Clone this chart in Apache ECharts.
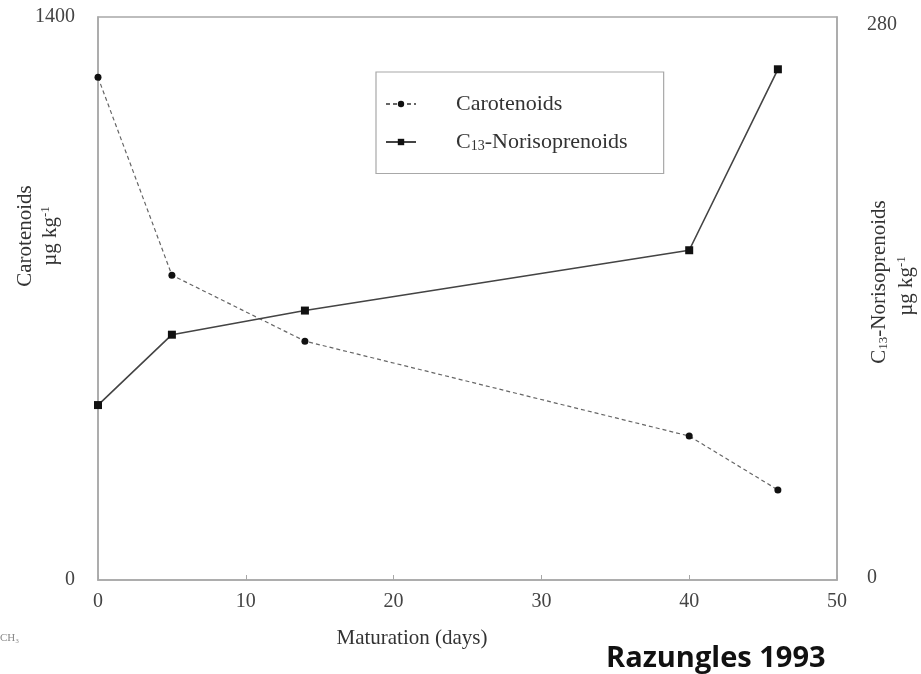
<!DOCTYPE html>
<html>
<head>
<meta charset="utf-8">
<script src="https://cdn.jsdelivr.net/npm/echarts@6/dist/echarts.min.js"></script>
<style>
  html, body { margin: 0; padding: 0; background: #fff; }
  #chart { width: 921px; height: 674px; }
</style>
</head>
<body>
<div id="chart"></div>
<script>
// Maturation time points (days)
const days = [0, 5, 14, 40, 46];
// Carotenoid content, µg/kg (left axis)
const carotenoids = [1250, 758, 594, 358, 224];
// C13-norisoprenoid content, µg/kg (right axis)
const norisoprenoids = [87, 122, 134, 164, 254];

const serif = 'Liberation Serif';
const chart = echarts.init(document.getElementById('chart'));

const unitRich = {
  n: { font: '21px "Liberation Serif"', fill: '#333' },
  sup: { font: '13px "Liberation Serif"', fill: '#333', padding: [0, 0, 9, 0] }
};

chart.setOption({
  animation: false,
  backgroundColor: '#fff',
  textStyle: { fontFamily: serif },
  grid: {
    left: 98, right: 84, top: 17, bottom: 94,
    show: true, borderColor: '#a8a8a8', borderWidth: 1.5
  },
  legend: {
    orient: 'vertical',
    left: 376, top: 72,
    padding: [21, 36, 20, 9],
    itemWidth: 30, itemHeight: 8, itemGap: 16,
    borderColor: '#a8a8a8', borderWidth: 1.2,
    textStyle: {
      fontFamily: serif, fontSize: 22, color: '#333', padding: [0, 0, 0, 35],
      rich: {
        sub: { fontFamily: serif, fontSize: 14, color: '#333', padding: [9, 0, 0, 0] },
        n: { fontFamily: serif, fontSize: 22, color: '#333' }
      }
    },
    formatter: name => name === 'C13-Norisoprenoids'
      ? '{n|C}{sub|13}{n|-Norisoprenoids}'
      : '{n|' + name + '}',
    data: ['Carotenoids', 'C13-Norisoprenoids']
  },
  xAxis: {
    type: 'value', min: 0, max: 50, interval: 10,
    axisLine: { lineStyle: { color: '#a8a8a8', width: 1.5 } },
    axisTick: { inside: true, length: 5, lineStyle: { color: '#a8a8a8' } },
    axisLabel: { fontFamily: serif, fontSize: 20, color: '#444', margin: 12 },
    splitLine: { show: false }
  },
  yAxis: [
    {
      type: 'value', min: 0, max: 1400, interval: 1400, position: 'left',
      axisLine: { show: true, lineStyle: { color: '#a8a8a8', width: 1.5 } },
      axisTick: { show: false },
      axisLabel: {
        fontFamily: serif, fontSize: 20, color: '#444', margin: 23,
        formatter: v => String(v), padding: [4, 0, 0, 0]
      },
      splitLine: { show: false }
    },
    {
      type: 'value', min: 0, max: 280, interval: 280, position: 'right',
      axisLine: { show: true, lineStyle: { color: '#a8a8a8', width: 1.5 } },
      axisTick: { show: false },
      axisLabel: {
        fontFamily: serif, fontSize: 20, color: '#444', margin: 30,
        formatter: v => v === 0 ? '{z|0}' : '{t|' + v + '}',
        rich: {
          z: { fontFamily: serif, fontSize: 20, color: '#444', padding: [0, 0, 4, 0] },
          t: { fontFamily: serif, fontSize: 20, color: '#444', padding: [16, 0, 0, 0] }
        }
      },
      splitLine: { show: false }
    }
  ],
  series: [
    {
      name: 'Carotenoids', type: 'line', yAxisIndex: 0,
      data: days.map((d, i) => [d, carotenoids[i]]),
      symbol: 'circle', symbolSize: 7,
      itemStyle: { color: '#111' },
      lineStyle: { color: '#666', width: 1.2, type: [4, 3] }
    },
    {
      name: 'C13-Norisoprenoids', type: 'line', yAxisIndex: 1,
      data: days.map((d, i) => [d, norisoprenoids[i]]),
      symbol: 'rect', symbolSize: 8,
      itemStyle: { color: '#111' },
      lineStyle: { color: '#444', width: 1.6 }
    }
  ],
  graphic: [
    // x axis title
    {
      type: 'text', x: 412, y: 638,
      style: { text: 'Maturation (days)', font: '21px "Liberation Serif"', fill: '#333', align: 'center', verticalAlign: 'middle' }
    },
    // left axis title
    {
      type: 'text', x: 25, y: 236, rotation: Math.PI / 2,
      style: { text: 'Carotenoids', font: '21px "Liberation Serif"', fill: '#333', align: 'center', verticalAlign: 'middle' }
    },
    {
      type: 'text', x: 50, y: 236, rotation: Math.PI / 2,
      style: { text: '{n|µg kg}{sup|-1}', align: 'center', verticalAlign: 'middle', rich: unitRich }
    },
    // right axis title
    {
      type: 'text', x: 879, y: 282, rotation: Math.PI / 2,
      style: {
        text: '{n|C}{sub|13}{n|-Norisoprenoids}', align: 'center', verticalAlign: 'middle',
        rich: {
          n: { font: '21px "Liberation Serif"', fill: '#333' },
          sub: { font: '13px "Liberation Serif"', fill: '#333', padding: [9, 0, 0, 0] }
        }
      }
    },
    {
      type: 'text', x: 906, y: 286, rotation: Math.PI / 2,
      style: { text: '{n|µg kg}{sup|-1}', align: 'center', verticalAlign: 'middle', rich: unitRich }
    },
    // source note
    {
      type: 'text', x: 606, y: 659,
      style: { text: 'Razungles 1993', font: 'bold 29px "Open Sans"', fill: '#111', verticalAlign: 'middle' }
    },
    {
      type: 'text', x: 0, y: 633,
      style: { text: 'CH₃', font: '11px "Liberation Serif"', fill: '#888' }
    }
  ]
});
</script>
</body>
</html>
